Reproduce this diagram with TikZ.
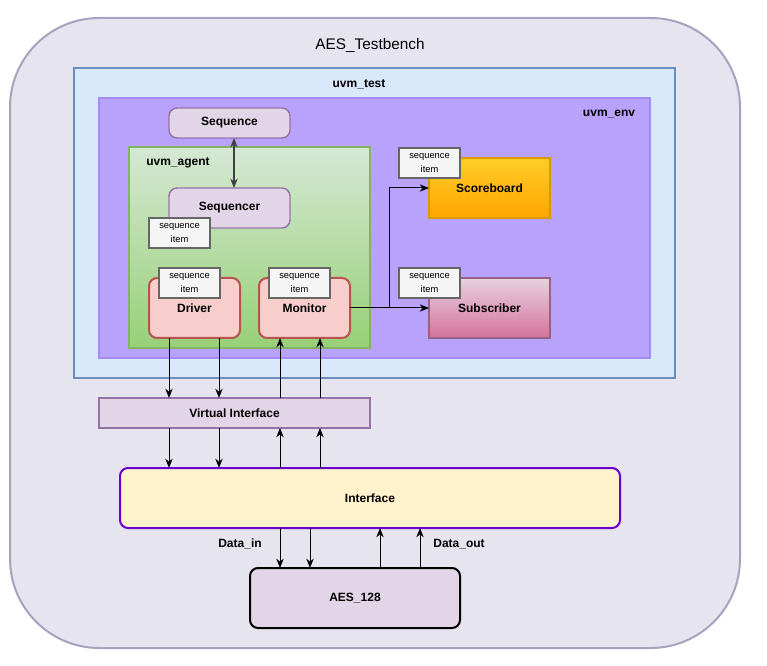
\documentclass[tikz,border=0pt]{standalone}
\usepackage{fontspec}
\setmainfont{Liberation Sans}
\usetikzlibrary{arrows.meta}

\definecolor{tbfill}{HTML}{E6E4EF}
\definecolor{tbline}{HTML}{A6A2C0}
\definecolor{testfill}{HTML}{DAE8FC}
\definecolor{testline}{HTML}{6C8EBF}
\definecolor{envfill}{HTML}{B9A2FB}
\definecolor{envline}{HTML}{A68CF6}
\definecolor{purfill}{HTML}{E1D5E7}
\definecolor{purline}{HTML}{9673A6}
\definecolor{agtop}{HTML}{D5E8D4}
\definecolor{agbot}{HTML}{97D077}
\definecolor{agline}{HTML}{82B366}
\definecolor{redfill}{HTML}{F8CECC}
\definecolor{redline}{HTML}{B85450}
\definecolor{itfill}{HTML}{F5F5F5}
\definecolor{itline}{HTML}{666666}
\definecolor{sbtop}{HTML}{FFCD28}
\definecolor{sbbot}{HTML}{FFA500}
\definecolor{sbline}{HTML}{D79B00}
\definecolor{sutop}{HTML}{E6D0DE}
\definecolor{subot}{HTML}{D5739D}
\definecolor{suline}{HTML}{996185}
\definecolor{iffill}{HTML}{FFF2CC}
\definecolor{ifline}{HTML}{6A00D0}

\begin{document}
\begin{tikzpicture}[x=0.75pt,y=0.75pt,yscale=-1,xscale=1,
  box/.style={draw, inner sep=0pt, outer sep=0pt, line width=0.75pt},
  blk/.style={box, rounded corners=6pt, font=\fontsize{9}{10}\selectfont\bfseries},
  item/.style={box, fill=itfill, draw=itline, line width=1.5pt, minimum width=45.75pt, minimum height=22.5pt, align=center, font=\fontsize{7}{11}\selectfont},
  lbl/.style={inner sep=0.75pt, font=\fontsize{9}{10}\selectfont\bfseries},
  arr/.style={line width=0.75pt, -{Stealth[length=7pt,width=5.5pt]}}]
\useasboundingbox (0,0) rectangle (767,666);

%Containers
\node [box, fill=tbfill, draw=tbline, line width=1.5pt, rounded corners=67pt, minimum width=547.5pt, minimum height=472.5pt] (tb) at (375,333) {};
\node [box, fill=testfill, draw=testline, line width=1.1pt, minimum width=450.75pt, minimum height=232.5pt] (test) at (374.5,223) {};
\node [box, fill=envfill, draw=envline, line width=1.5pt, minimum width=413.25pt, minimum height=195pt] (env) at (374.5,228) {};
\node [box, top color=agtop, bottom color=agbot, draw=agline, line width=1.5pt, minimum width=180.75pt, minimum height=150.75pt] (agent) at (249.5,247.5) {};

%Blocks
\node [blk, fill=purfill, draw=purline, line width=1.1pt, minimum width=90.75pt, minimum height=22.5pt] (seq) at (229.5,123) {Sequence};
\node [blk, fill=purfill, draw=purline, line width=1.1pt, minimum width=90.75pt, minimum height=30pt] (sqr) at (229.5,208) {Sequencer};
\node [blk, fill=redfill, draw=redline, line width=1.5pt, minimum width=68.25pt, minimum height=45pt] (drv) at (194.5,308) {Driver};
\node [blk, fill=redfill, draw=redline, line width=1.5pt, minimum width=68.25pt, minimum height=45pt] (mon) at (304.5,308) {Monitor};
\node [blk, rounded corners=0pt, top color=sbtop, bottom color=sbbot, draw=sbline, line width=1.5pt, minimum width=90.75pt, minimum height=45pt] (scb) at (489.5,188) {Scoreboard};
\node [blk, rounded corners=0pt, top color=sutop, bottom color=subot, draw=suline, line width=1.5pt, minimum width=90.75pt, minimum height=45pt] (sub) at (489.5,308) {Subscriber};
\node [blk, rounded corners=0pt, fill=purfill, draw=purline, line width=1.5pt, minimum width=203.25pt, minimum height=22.5pt] (vi) at (234.5,413) {Virtual Interface};
\node [blk, fill=iffill, draw=ifline, line width=1.5pt, minimum width=375pt, minimum height=45pt] (intf) at (370,498) {Interface};
\node [blk, fill=purfill, draw=black, line width=1.5pt, minimum width=157.5pt, minimum height=45pt] (aes) at (355,598) {AES\_128};

%Sequence items
\node [item] (itsqr) at (179.5,233) {sequence\\item};
\node [item] (itdrv) at (189.5,283) {sequence\\item};
\node [item] (itmon) at (299.5,283) {sequence\\item};
\node [item] (itscb) at (429.5,163) {sequence\\item};
\node [item] (itsub) at (429.5,283) {sequence\\item};

% Text Node
\node [inner sep=0.75pt, font=\fontsize{11.5}{13}\selectfont] (ttb) at (370,45) {AES\_Testbench};
% Text Node
\node [lbl] (ttest) at (359,84) {uvm\_test};
% Text Node
\node [lbl] (tenv) at (609,114) {uvm\_env};
% Text Node
\node [lbl] (tagent) at (178,163) {uvm\_agent};
% Text Node
\node [lbl] (tdin) at (240,544) {Data\_in};
% Text Node
\node [lbl] (tdout) at (459,544) {Data\_out};

%Lanes
\coordinate (ls) at (234,0);
\coordinate (la) at (169,0);
\coordinate (lb) at (219,0);
\coordinate (lc) at (280,0);
\coordinate (ld) at (320,0);
\coordinate (le) at (280,0);
\coordinate (lf) at (310,0);
\coordinate (lg) at (380,0);
\coordinate (lh) at (420,0);
\coordinate (split) at (389,308);

%Connectors
\draw [arr, line width=1.1pt, draw=black!75, {Stealth[length=7pt,width=5.5pt]}-{Stealth[length=7pt,width=5.5pt]}] (seq.south -| ls) -- (sqr.north -| ls);
\draw [arr] (mon.east) -- (sub.west);
\draw [arr] (split) |- (scb.west);
\draw [arr] (drv.south -| la) -- (vi.north -| la);
\draw [arr] (drv.south -| lb) -- (vi.north -| lb);
\draw [arr] (vi.north -| lc) -- (mon.south -| lc);
\draw [arr] (vi.north -| ld) -- (mon.south -| ld);
\draw [arr] (vi.south -| la) -- (intf.north -| la);
\draw [arr] (vi.south -| lb) -- (intf.north -| lb);
\draw [arr] (intf.north -| lc) -- (vi.south -| lc);
\draw [arr] (intf.north -| ld) -- (vi.south -| ld);
\draw [arr] (intf.south -| le) -- (aes.north -| le);
\draw [arr] (intf.south -| lf) -- (aes.north -| lf);
\draw [arr] (aes.north -| lg) -- (intf.south -| lg);
\draw [arr] (aes.north -| lh) -- (intf.south -| lh);

\end{tikzpicture}
\end{document}
